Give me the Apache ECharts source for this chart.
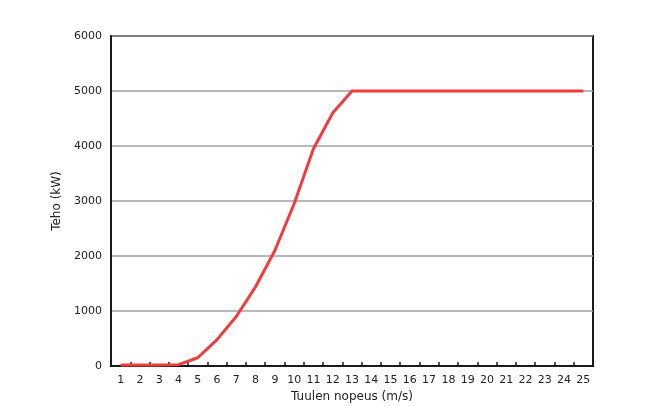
<!DOCTYPE html>
<html>
<head>
<meta charset="utf-8">
<script src="https://cdn.jsdelivr.net/npm/echarts@6/dist/echarts.min.js"></script>
<style>html,body{margin:0;padding:0;background:#fff}#c{width:660px;height:406px}</style>
</head>
<body>
<div id="c"></div>
<script>
const windSpeeds = ['1','2','3','4','5','6','7','8','9','10','11','12','13','14','15','16','17','18','19','20','21','22','23','24','25'];
const powerKW = [20, 20, 20, 25, 150, 480, 900, 1440, 2100, 2950, 3950, 4600, 5000, 5000, 5000, 5000, 5000, 5000, 5000, 5000, 5000, 5000, 5000, 5000, 5000];
const yTicks = [0, 1000, 2000, 3000, 4000, 5000, 6000];

const font = 'DejaVu Sans';
const chart = echarts.init(document.getElementById('c'), null, {renderer: 'canvas'});
chart.setOption({
  animation: false,
  grid: {left: 111, right: 67, top: 36, bottom: 40, show: true, borderColor: '#1a1a1a', borderWidth: 2, backgroundColor: 'transparent', containLabel: false, outerBoundsMode: 'none'},
  xAxis: {
    type: 'category',
    data: windSpeeds,
    boundaryGap: true,
    name: 'Tuulen nopeus (m/s)',
    nameLocation: 'middle',
    nameGap: 25,
    nameTextStyle: {fontFamily: font, fontSize: 12, color: '#222'},
    axisLine: {show: true, lineStyle: {color: '#1a1a1a', width: 2}},
    axisTick: {show: true, inside: true, length: 4, lineStyle: {color: '#1a1a1a', width: 1.5}},
    axisLabel: {fontFamily: font, fontSize: 11, color: '#222', margin: 9, interval: 0},
    splitLine: {show: false}
  },
  yAxis: {
    type: 'value',
    min: yTicks[0],
    max: yTicks[yTicks.length - 1],
    interval: 1000,
    name: 'Teho (kW)',
    nameLocation: 'middle',
    nameGap: 42,
    nameTextStyle: {fontFamily: font, fontSize: 12, color: '#222'},
    axisLine: {show: true, lineStyle: {color: '#1a1a1a', width: 2}},
    axisTick: {show: false},
    axisLabel: {fontFamily: font, fontSize: 11, color: '#222', margin: 9, formatter: v => String(v)},
    splitLine: {show: true, lineStyle: {color: '#a0a0a0', width: 1.5}}
  },
  series: [{
    type: 'line',
    data: powerKW,
    symbol: 'none',
    smooth: false,
    lineStyle: {color: '#f03c3c', width: 3},
    z: 5
  }]
});
</script>
</body>
</html>
